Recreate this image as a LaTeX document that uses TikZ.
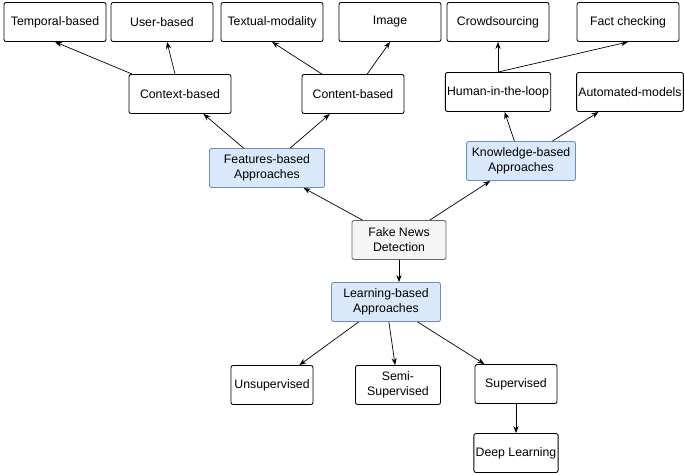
\documentclass[tikz,border=0pt]{standalone}
\usepackage{fontspec}
\setmainfont{Liberation Sans}
\usetikzlibrary{arrows.meta}
\definecolor{bfill}{HTML}{DAE8FC}\definecolor{bdraw}{HTML}{6C8EBF}
\definecolor{gfill}{HTML}{F5F5F5}\definecolor{gdraw}{HTML}{666666}
\begin{document}
\begin{tikzpicture}[x=0.02cm,y=-0.02cm,
 box/.style={draw=black,rounded corners=1.2pt,minimum width=102*0.02cm,minimum height=39*0.02cm,inner sep=1pt,align=center,font=\fontsize{7}{8.5}\selectfont,line width=0.5pt},
 blue/.style={box,fill=bfill,draw=bdraw,minimum width=112*0.02cm},
 grey/.style={box,fill=gfill,draw=gdraw,minimum width=94*0.02cm},
 arr/.style={-{Stealth[length=4pt,width=3pt]},line width=0.4pt}]
\useasboundingbox (0,0) rectangle (685,474);
\node[box] (tb) at (55,22) {Temporal-based};
\node[box] (ub) at (162,22) {User-based};
\node[box] (tm) at (272,22) {Textual-modality};
\node[box] (im) at (390,22) {Image};
\node[box] (cs) at (498,22) {Crowdsourcing};
\node[box] (fc) at (628,22) {Fact checking};
\node[box] (cx) at (180,94) {Context-based};
\node[box] (ct) at (353,94) {Content-based};
\node[box] (hl) at (498,92) {Human-in-the-loop};
\node[box,minimum width=106*0.02cm] (am) at (630,92) {Automated-models};
\node[blue,minimum width=115*0.02cm] (fb) at (267,168) {Features-based\\Approaches};
\node[blue,minimum width=109*0.02cm] (kb) at (521,161) {Knowledge-based\\Approaches};
\node[grey] (fn) at (399,240) {Fake News\\Detection};
\node[blue,minimum width=109*0.02cm] (lb) at (386,302) {Learning-based\\Approaches};
\node[box,minimum width=82*0.02cm] (un) at (272,385) {Unsupervised};
\node[box,minimum width=85*0.02cm] (ss) at (398,385) {Semi-\\Supervised};
\node[box,minimum width=82*0.02cm] (su) at (516,384) {Supervised};
\node[box,minimum width=82*0.02cm] (dl) at (516,453) {Deep Learning};
\draw[arr] (cx) -- (tb.south);
\draw[arr] (cx) -- (ub);
\draw[arr] (ct) -- (tm.south);
\draw[arr] (ct) -- (im.south);
\draw[arr] (hl) -- (cs);
\draw[arr] (hl.north) -- (fc.south);
\draw[arr] (fb) -- (cx);
\draw[arr] (fb) -- (ct);
\draw[arr] (kb) -- (hl);
\draw[arr] (kb) -- (am);
\draw[arr] (fn) -- (fb);
\draw[arr] (fn) -- (kb);
\draw[arr] (fn) -- (fn|-lb.north);
\draw[arr] (lb) -- (un);
\draw[arr] (lb) -- (ss);
\draw[arr] (lb) -- (su);
\draw[arr] (su) -- (dl);
\end{tikzpicture}
\end{document}
